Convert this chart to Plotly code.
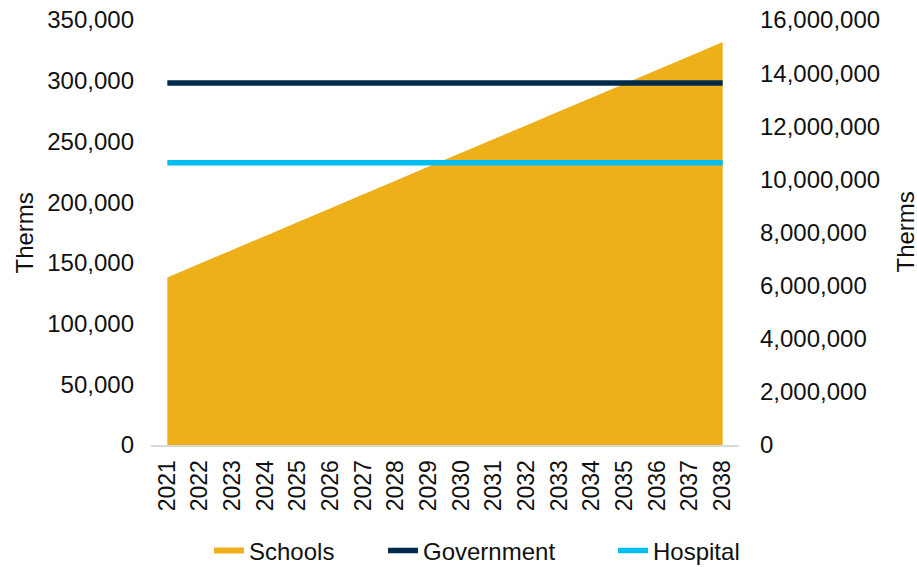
import plotly.graph_objects as go

# Annual gas use, in therms
years = [str(y) for y in range(2021, 2039)]
schools = [138000, 149400, 160800, 172200, 183700, 195000, 206400, 217800, 229300,
           240600, 252000, 263400, 274800, 286200, 297600, 309000, 320400, 331800]
government = [13630000] * len(years)
hospital = [10630000] * len(years)

FONT = "Liberation Sans, Arial, sans-serif"
TXT = "#111111"
FS = 24
W, H = 917, 567

fig = go.Figure()
fig.add_trace(go.Scatter(
    x=years, y=schools, name="Schools", mode="none",
    fill="tozeroy", fillcolor="#EDB018", yaxis="y", legend="legend",
))
fig.add_trace(go.Scatter(
    x=years, y=government, name="Government", mode="lines",
    line=dict(color="#002A4C", width=5.5), yaxis="y2", legend="legend2",
))
fig.add_trace(go.Scatter(
    x=years, y=hospital, name="Hospital", mode="lines",
    line=dict(color="#00BFF0", width=5.5), yaxis="y2", legend="legend3",
))


def legend_at(px_left):
    return dict(
        orientation="h", xref="container", yref="container",
        x=px_left / W, xanchor="left", y=(H - 551) / H, yanchor="middle",
        font=dict(size=FS), bgcolor="rgba(0,0,0,0)",
    )


fig.update_layout(
    width=W, height=H,
    margin=dict(l=151, r=178, t=20, b=122),
    paper_bgcolor="white", plot_bgcolor="white",
    font=dict(family=FONT, size=FS, color=TXT),
    showlegend=True,
    legend=legend_at(209),
    legend2=legend_at(383),
    legend3=legend_at(613),
    xaxis=dict(
        type="category", range=[-0.5, len(years) - 0.5],
        showline=True, linecolor="#D9D9D9", linewidth=2,
        showgrid=False, ticks="", tickangle=-90,
        tickfont=dict(size=23), ticklabelstandoff=4, automargin=False,
    ),
    yaxis=dict(
        range=[0, 350000], dtick=50000, tickformat=",",
        showgrid=False, zeroline=False, showline=False, ticks="",
        ticklabelstandoff=16, automargin=False,
    ),
    yaxis2=dict(
        range=[0, 16000000], dtick=2000000, tickformat=",",
        overlaying="y", side="right",
        showgrid=False, zeroline=False, showline=False, ticks="",
        ticklabelstandoff=20, automargin=False,
    ),
    annotations=[
        dict(text="Therms", xref="paper", yref="paper", x=-151 / 588 + 24 / 588,
             y=0.5, textangle=-90, showarrow=False, font=dict(size=FS),
             xanchor="center", yanchor="middle"),
        dict(text="Therms", xref="paper", yref="paper", x=(905 - 151) / 588,
             y=0.5, textangle=-90, showarrow=False, font=dict(size=FS),
             xanchor="center", yanchor="middle"),
    ],
)

fig.write_html("out.html")
